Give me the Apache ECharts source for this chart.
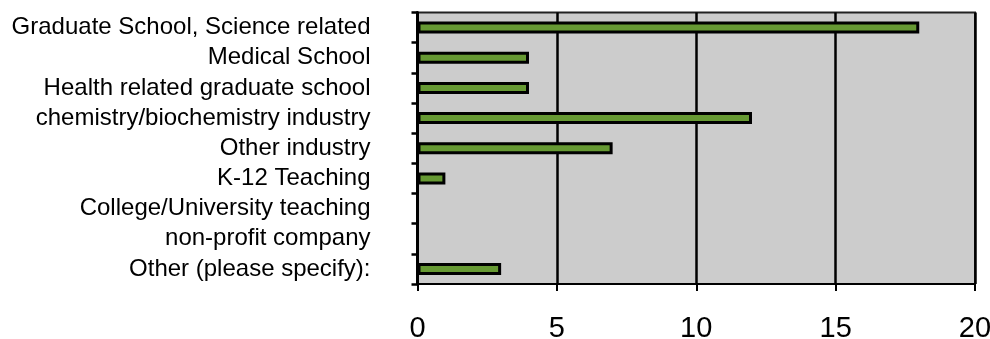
<!DOCTYPE html>
<html>
<head>
<meta charset="utf-8">
<script src="https://cdn.jsdelivr.net/npm/echarts@6/dist/echarts.min.js"></script>
<style>
  html, body { margin: 0; padding: 0; background: #ffffff; }
  #chart { width: 990px; height: 339px; }
</style>
</head>
<body>
<div id="chart"></div>
<script>
// Post-graduation plans: number of responses per option
const categories = [
  'Graduate School, Science related',
  'Medical School',
  'Health related graduate school',
  'chemistry/biochemistry industry',
  'Other industry',
  'K-12 Teaching',
  'College/University teaching',
  'non-profit company',
  'Other (please specify):'
];
const responses = [18, 4, 4, 12, 7, 1, 0, 0, 3];
const valueTicks = [0, 5, 10, 15, 20];

const FONT = '"Liberation Sans", Arial, Helvetica, sans-serif';

const chart = echarts.init(document.getElementById('chart'), null, { renderer: 'canvas' });
chart.setOption({
  animation: false,
  grid: {
    left: 417.5,
    right: 15,
    top: 12.5,
    bottom: 55,
    containLabel: false,
    outerBoundsMode: 'none',
    show: true,
    backgroundColor: '#cccccc',
    borderColor: '#222222',
    borderWidth: 2
  },
  xAxis: {
    type: 'value',
    min: valueTicks[0],
    max: valueTicks[valueTicks.length - 1],
    interval: 5,
    axisLine: { show: true, lineStyle: { color: '#000', width: 2 } },
    axisTick: { show: true, length: 7, lineStyle: { color: '#000', width: 2 } },
    splitLine: { show: true, lineStyle: { color: '#000', width: 2.5 } },
    axisLabel: {
      color: '#000',
      fontFamily: FONT,
      fontSize: 29,
      margin: 30
    }
  },
  yAxis: {
    type: 'category',
    data: categories,
    inverse: true,
    axisLine: { show: true, lineStyle: { color: '#000', width: 3 } },
    axisTick: { show: true, length: 6, lineStyle: { color: '#000', width: 2.5 } },
    axisLabel: {
      color: '#000',
      fontFamily: FONT,
      fontSize: 24,
      margin: 47,
      interval: 0,
      padding: [3, 0, 0, 0]
    }
  },
  series: [{
    type: 'bar',
    data: responses,
    barWidth: 12,
    itemStyle: {
      color: '#669933',
      borderColor: '#000',
      borderWidth: 3
    }
  }]
});
</script>
</body>
</html>
